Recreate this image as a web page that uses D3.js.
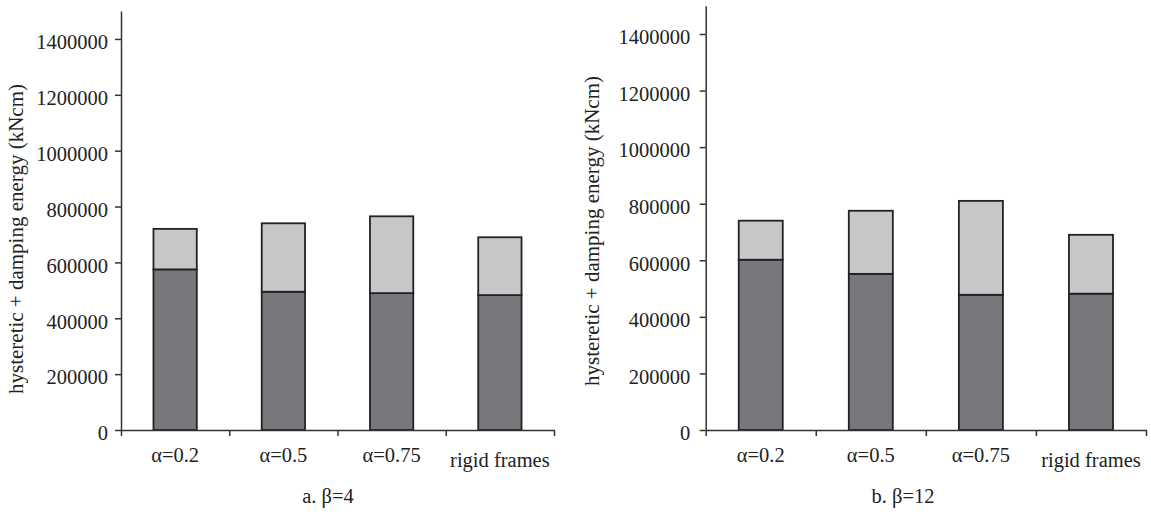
<!DOCTYPE html>
<html><head><meta charset="utf-8">
<script src="https://cdn.jsdelivr.net/npm/d3@7/dist/d3.min.js"></script>
<style>body{margin:0;background:#fff}svg{display:block}</style>
</head><body><svg id="c" width="1151" height="514"></svg>
<script>
const categories = ["α=0.2", "α=0.5", "α=0.75", "rigid frames"];
const yTicks = [0, 200000, 400000, 600000, 800000, 1000000, 1200000, 1400000];
// panel a (β=4): lower dark segment, upper light segment
const lowerA = [575000, 495000, 490000, 483000];
const upperA = [145000, 245000, 275000, 207000];
// panel b (β=12)
const lowerB = [602000, 552000, 478000, 482000];
const upperB = [138000, 223000, 332000, 208000];
const captions = ["a. β=4", "b. β=12"];
const yTitle = "hysteretic + damping energy (kNcm)";

const FONT = "'Liberation Serif', serif";
const svg = d3.select("#c");
const colors = {lower: "#77787c", upper: "#c6c7c9"};

function panel(cfg) {
  const {x0, x1, yTop, y0, lower, upper, caption, capX, titleX, titleY, labelPad} = cfg;
  const rows = categories.map((c, i) => ({cat: c, lower: lower[i], upper: upper[i]}));
  const stack = d3.stack().keys(["lower", "upper"])(rows);
  const x = d3.scaleBand().domain(categories).range([x0, x1]).paddingInner(0.6).paddingOuter(0.3);
  const y = d3.scaleLinear().domain([0, 1500000]).range([y0, yTop]);
  const g = svg.append("g");

  stack.forEach(s => {
    g.append("g").selectAll("rect").data(s).join("rect")
      .attr("x", d => x(d.data.cat))
      .attr("width", x.bandwidth())
      .attr("y", d => y(d[1]))
      .attr("height", d => y(d[0]) - y(d[1]))
      .attr("fill", colors[s.key])
      .attr("stroke", "#222").attr("stroke-width", 1.8);
  });

  const ya = g.append("g").attr("transform", `translate(${x0},0)`)
    .call(d3.axisLeft(y).tickValues(yTicks).tickFormat(d3.format("d")).tickSize(6).tickSizeOuter(0).tickPadding(labelPad));
  ya.attr("font-family", null).attr("font-size", null);
  ya.selectAll("text").style("font-family", FONT).style("font-size", "20.5px").attr("fill", "#222").attr("dy", "0.48em");
  ya.selectAll("path,line").attr("stroke", "#333").attr("stroke-width", 1.5);

  const xb = d3.scaleLinear().domain([0, categories.length]).range([x0, x1]);
  const xa = g.append("g").attr("transform", `translate(0,${y0})`)
    .call(d3.axisBottom(xb).tickValues(d3.range(categories.length + 1)).tickFormat("").tickSize(6).tickSizeOuter(0));
  xa.selectAll("path,line").attr("stroke", "#333").attr("stroke-width", 1.5);

  const xl = g.append("g").attr("transform", `translate(0,${y0})`)
    .call(d3.axisBottom(x).tickSize(0).tickPadding(17));
  xl.attr("font-family", null).attr("font-size", null);
  xl.select(".domain").remove();
  xl.selectAll("text").style("font-family", FONT).style("font-size", "20.5px").attr("fill", "#222")
    .attr("y", (d, i) => i === categories.length - 1 ? 22 : 17);

  g.append("text").attr("transform", `translate(${titleX},${titleY}) rotate(-90)`)
    .attr("text-anchor", "middle").style("font-family", FONT).style("font-size", "21px").attr("fill", "#222").text(yTitle);

  g.append("text").attr("x", capX).attr("y", 503).attr("text-anchor", "middle")
    .style("font-family", FONT).style("font-size", "20.5px").attr("fill", "#222").text(caption);
}

panel({x0: 121, x1: 554, yTop: 11, y0: 430, lower: lowerA, upper: upperA, caption: captions[0], capX: 328, titleX: 23, titleY: 239, labelPad: 7});
panel({x0: 705.7, x1: 1146, yTop: 5.7, y0: 430, lower: lowerB, upper: upperB, caption: captions[1], capX: 903, titleX: 599, titleY: 231, labelPad: 9.5});
</script></body></html>
